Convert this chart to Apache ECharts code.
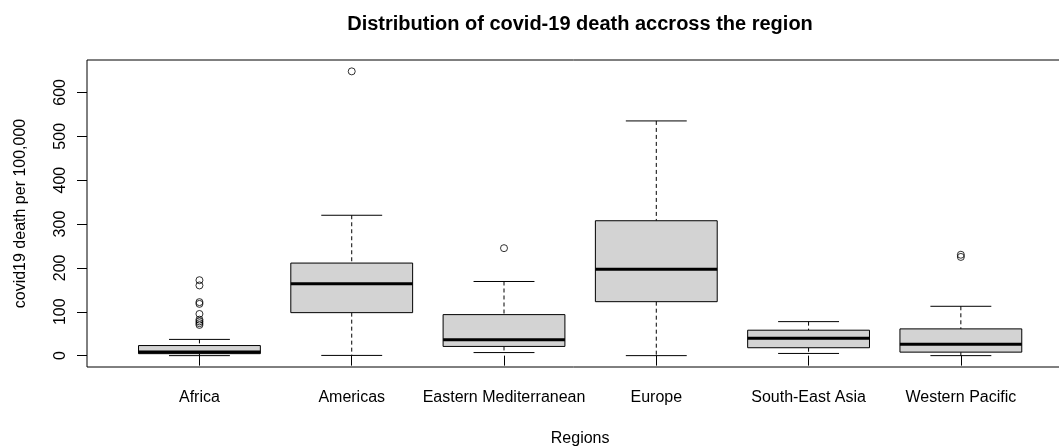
<!DOCTYPE html>
<html>
<head>
<meta charset="utf-8">
<script src="https://cdn.jsdelivr.net/npm/echarts@6/dist/echarts.min.js"></script>
<style>html,body{margin:0;padding:0;background:#fff;}#c{width:1059px;height:448px;}</style>
</head>
<body>
<div id="c"></div>
<script>
var categories = ['Africa', 'Americas', 'Eastern Mediterranean', 'Europe', 'South-East Asia', 'Western Pacific'];
var lowWhisker = [0, 0.5, 7, 0, 5, 0];
var q1 = [4.5, 98, 21, 123, 18, 8];
var median = [8.5, 164, 36.5, 197, 39.5, 26];
var q3 = [23, 211, 93.5, 307.5, 58, 61];
var highWhisker = [37, 320, 169, 535, 77.5, 112.5];
var outlierAfrica = [172, 160, 122, 118, 95, 82, 78, 74, 70];
var outlierAmericas = [648];
var outlierEastMed = [245];
var outlierWestPac = [230, 225];
var yTicks = [0, 100, 200, 300, 400, 500, 600];

var boxData = categories.map(function (c, i) {
  return [i, lowWhisker[i], q1[i], median[i], q3[i], highWhisker[i]];
});
var outlierData = [];
outlierAfrica.forEach(function (v) { outlierData.push([0, v]); });
outlierAmericas.forEach(function (v) { outlierData.push([1, v]); });
outlierEastMed.forEach(function (v) { outlierData.push([2, v]); });
outlierWestPac.forEach(function (v) { outlierData.push([5, v]); });

var yMin = -25.9, yMax = 673.9;
var FONT = 'Liberation Sans, Arial, sans-serif';

function renderBox(params, api) {
  var idx = api.value(0);
  var band = api.size([1, 0])[0];
  var bw = band * 0.8;
  var sw = bw * 0.5;
  var pLow = api.coord([idx, api.value(1)]);
  var pQ1 = api.coord([idx, api.value(2)]);
  var pMed = api.coord([idx, api.value(3)]);
  var pQ3 = api.coord([idx, api.value(4)]);
  var pHigh = api.coord([idx, api.value(5)]);
  var x = pMed[0];
  var lineStyle = { stroke: '#000', lineWidth: 1 };
  var dashStyle = { stroke: '#000', lineWidth: 1, lineDash: [4, 3] };
  return {
    type: 'group',
    children: [
      { type: 'line', shape: { x1: x, y1: pHigh[1], x2: x, y2: pQ3[1] }, style: dashStyle },
      { type: 'line', shape: { x1: x, y1: pQ1[1], x2: x, y2: pLow[1] }, style: dashStyle },
      { type: 'line', shape: { x1: x - sw / 2, y1: pHigh[1], x2: x + sw / 2, y2: pHigh[1] }, style: lineStyle },
      { type: 'line', shape: { x1: x - sw / 2, y1: pLow[1], x2: x + sw / 2, y2: pLow[1] }, style: lineStyle },
      { type: 'rect', shape: { x: x - bw / 2, y: pQ3[1], width: bw, height: pQ1[1] - pQ3[1] },
        style: { fill: '#D3D3D3', stroke: '#000', lineWidth: 1 } },
      { type: 'line', shape: { x1: x - bw / 2, y1: pMed[1], x2: x + bw / 2, y2: pMed[1] },
        style: { stroke: '#000', lineWidth: 3 } }
    ]
  };
}

var chart = echarts.init(document.getElementById('c'));
chart.setOption({
  backgroundColor: '#fff',
  animation: false,
  title: {
    text: 'Distribution of covid-19 death accross the region',
    left: 575, top: 9, textAlign: 'center',
    textStyle: { fontFamily: FONT, fontSize: 20, fontWeight: 'bold', color: '#000' }
  },
  grid: [
    { left: 87, right: -14, top: 60, bottom: 81, show: true, borderColor: '#000', borderWidth: 1,
      backgroundColor: 'transparent', outerBoundsMode: 'none', containLabel: false },
    { left: 123.3, right: 22, top: 60, bottom: 81, outerBoundsMode: 'none', containLabel: false }
  ],
  xAxis: [
    { gridIndex: 0, type: 'value', min: 0, max: 1, show: false },
    {
      gridIndex: 1, type: 'category', data: categories,
      axisLine: { show: false },
      axisTick: { show: true, alignWithLabel: true, length: 10, lineStyle: { color: '#000' } },
      axisLabel: { fontFamily: FONT, fontSize: 16, color: '#000', margin: 23, interval: 0 },
      splitLine: { show: false },
      name: 'Regions', nameLocation: 'middle', nameGap: 64,
      nameTextStyle: { fontFamily: FONT, fontSize: 16, color: '#000', verticalAlign: 'top' }
    }
  ],
  yAxis: [
    {
      gridIndex: 0, type: 'value', min: yMin, max: yMax,
      axisLine: { show: false },
      axisTick: { show: true, length: 10, lineStyle: { color: '#000' }, customValues: yTicks },
      axisLabel: { fontFamily: FONT, fontSize: 16, color: '#000', rotate: 90, margin: 18, customValues: yTicks },
      splitLine: { show: false },
      name: 'covid19 death per 100,000', nameLocation: 'middle', nameGap: 58,
      nameTextStyle: { fontFamily: FONT, fontSize: 16, color: '#000' }
    },
    { gridIndex: 1, type: 'value', min: yMin, max: yMax, show: false }
  ],
  series: [
    {
      type: 'custom', xAxisIndex: 1, yAxisIndex: 1,
      renderItem: renderBox, data: boxData, z: 2
    },
    {
      type: 'scatter', xAxisIndex: 1, yAxisIndex: 1, data: outlierData,
      symbol: 'circle', symbolSize: 7,
      itemStyle: { color: 'rgba(0,0,0,0)', borderColor: '#000', borderWidth: 1 }, z: 3
    }
  ]
});
</script>
</body>
</html>
